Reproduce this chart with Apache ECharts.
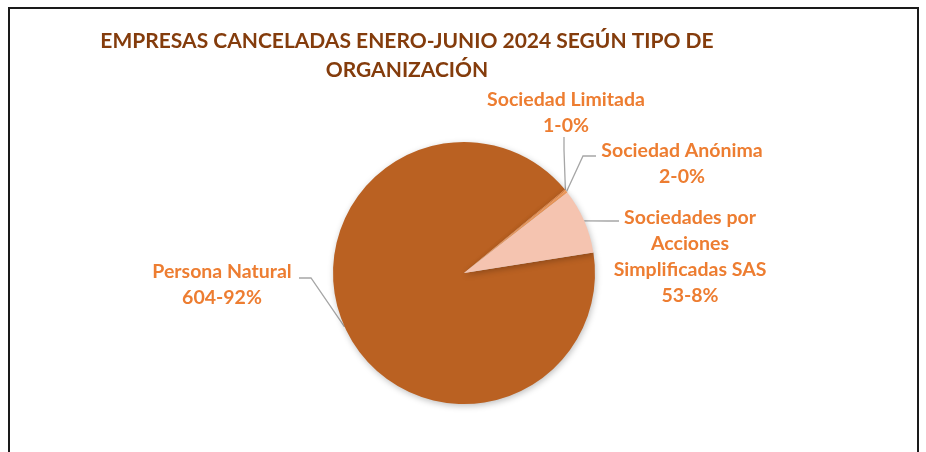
<!DOCTYPE html>
<html>
<head>
<meta charset="utf-8">
<script src="https://cdn.jsdelivr.net/npm/echarts@6/dist/echarts.min.js"></script>
<style>
html,body{margin:0;padding:0;background:#fff;}
#frame{position:absolute;left:8px;top:7px;width:911px;height:460px;border:2px solid #1a1a1a;box-sizing:border-box;}
#chart{position:absolute;left:0;top:0;width:926px;height:452px;}
</style>
</head>
<body>
<div id="frame"></div>
<div id="chart"></div>
<script>
const titleText = 'EMPRESAS CANCELADAS ENERO-JUNIO 2024 SEGÚN TIPO DE\nORGANIZACIÓN';
const categories = ['Persona Natural', 'Sociedad Limitada', 'Sociedad Anónima', 'Sociedades por Acciones Simplificadas SAS'];
const labelNames = ['Persona Natural', 'Sociedad Limitada', 'Sociedad Anónima', 'Sociedades por\nAcciones\nSimplificadas SAS'];
const values = [604, 1, 2, 53];
const colors = ['#BA6122', '#E8843E', '#F09A5C', '#F5C4B0'];

// label placement (decoration only)
const labelPos = [
  {x: 222, y: 285, line: [[311, 278], [299, 278]]},
  {x: 566, y: 113, line: [[564, 150], [564, 137]]},
  {x: 682, y: 164, line: [[583, 156], [596, 156]]},
  {x: 690, y: 257, line: [[608, 221], [619, 221]]}
];

const chart = echarts.init(document.getElementById('chart'), null, {renderer: 'canvas'});
chart.setOption({
  animation: false,
  backgroundColor: 'transparent',
  title: {
    text: titleText,
    left: 407,
    top: 27,
    padding: 0,
    textAlign: 'center',
    textStyle: {
      color: '#843C0C',
      fontFamily: 'Lato',
      fontWeight: 'bold',
      fontSize: 21,
      lineHeight: 29
    }
  },
  series: [{
    type: 'pie',
    center: [464, 273],
    radius: [0, 131],
    startAngle: 9,
    clockwise: true,
    percentPrecision: 0,
    avoidLabelOverlap: false,
    data: categories.map((c, i) => ({name: c, value: values[i], itemStyle: {color: colors[i]}})),
    itemStyle: {
      borderWidth: 0,
      shadowBlur: 6,
      shadowColor: 'rgba(0,0,0,0.25)',
      shadowOffsetX: 1,
      shadowOffsetY: 2
    },
    label: {
      show: true,
      position: 'outside',
      formatter: p => labelNames[p.dataIndex] + '\n' + p.value + '-' + p.percent + '%',
      color: '#ED7D31',
      fontFamily: 'Lato',
      fontWeight: 'bold',
      fontSize: 19.5,
      lineHeight: 26,
      align: 'center'
    },
    labelLine: {
      show: true,
      length: 15,
      length2: 15,
      lineStyle: {color: '#A6A6A6', width: 1.3}
    },
    labelLayout: function (params) {
      const p = labelPos[params.dataIndex];
      const out = {x: p.x, y: p.y, align: 'center', verticalAlign: 'middle'};
      if (params.labelLinePoints && params.labelLinePoints.length) {
        const a = params.labelLinePoints[0];
        out.labelLinePoints = [[a[0], a[1]], p.line[0], p.line[1]];
      }
      return out;
    },
    emphasis: {disabled: true}
  }]
});
</script>
</body>
</html>
